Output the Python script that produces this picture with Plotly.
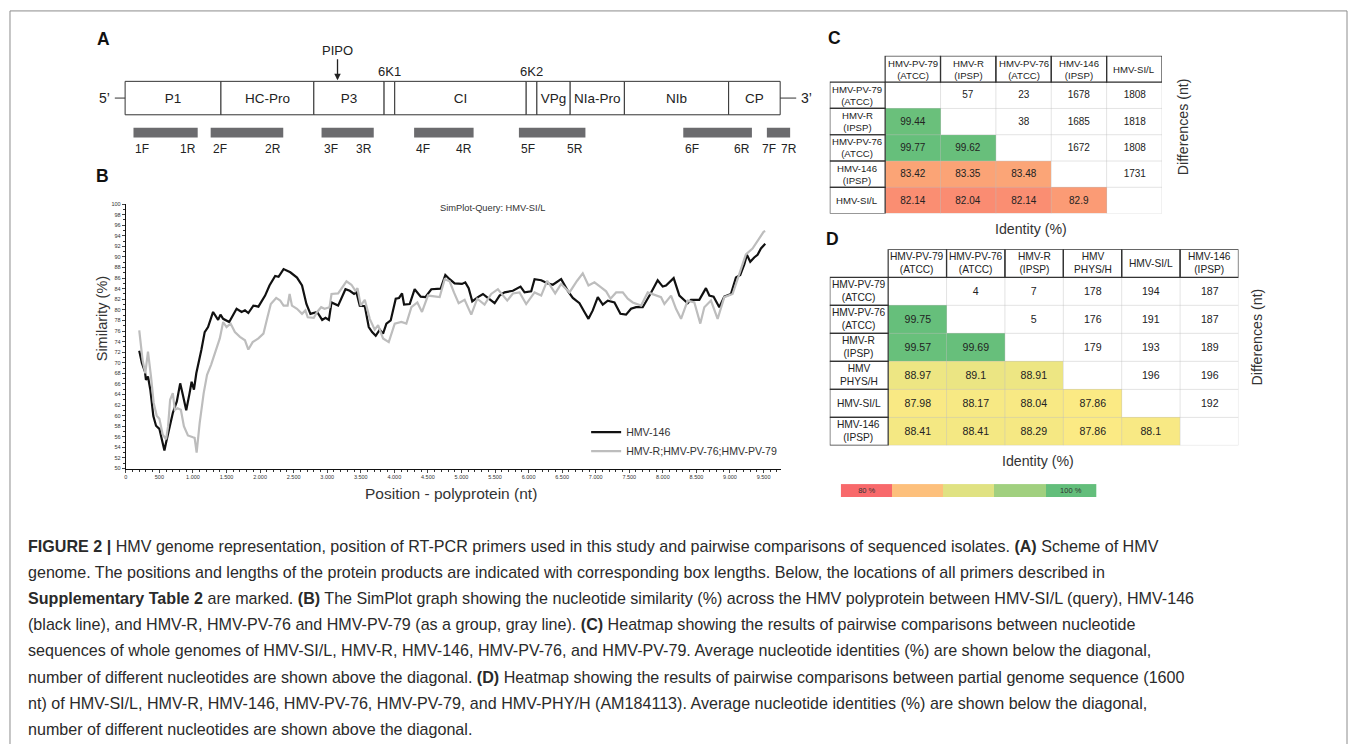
import plotly.graph_objects as go

W, H = 1355, 744


def fx(p):
    return p / W


def fy(p):
    return 1 - p / H


# ---------------- DATA ----------------
# Panel A: genome segments (approx. nt positions)
genome_names = ["P1", "HC-Pro", "P3", "6K1", "CI", "6K2", "VPg", "NIa-Pro", "NIb", "CP"]
genome_start = [0, 1434, 2824, 3875, 4034, 6001, 6161, 6659, 7470, 9030]
genome_end = [1434, 2824, 3875, 4034, 6001, 6161, 6659, 7470, 9030, 9801]
primer_ids = ["1", "2", "3", "4", "5", "6", "7"]
primer_start = [125, 1280, 2939, 4324, 5892, 8351, 9602]
primer_end = [1086, 2366, 3720, 5214, 6887, 9378, 9950]
pipo_pos = 3178

# Panel B: SimPlot curves
black_x = [200, 240, 285, 300, 330, 365, 410, 450, 500, 540, 575, 600, 640, 700, 760, 810, 850, 900, 950, 980,
           1015, 1050, 1125, 1175, 1225, 1300, 1375, 1410, 1450, 1540, 1650, 1725, 1775, 1825, 1900, 1975, 2075,
           2140, 2225, 2275, 2350, 2450, 2550, 2625, 2690, 2750, 2850, 2925, 2975, 3025,
           3064, 3163, 3272, 3336, 3400, 3436, 3485, 3560, 3619, 3669, 3723, 3783, 3832, 3882, 3946, 4021, 4070,
           4115, 4145, 4229, 4303, 4393, 4462, 4551, 4690, 4760, 4824, 4898, 5008, 5057, 5107, 5161, 5245, 5320,
           5369, 5494, 5568, 5642, 5766, 5880, 5940, 6039, 6089, 6188, 6287, 6361, 6485, 6584, 6659, 6758, 6832,
           6892, 6956, 7031, 7105, 7180, 7279, 7368, 7452, 7526, 7601, 7700, 7814, 7923, 7998, 8047, 8161, 8246,
           8370, 8419, 8543, 8642, 8692, 8756, 8841, 8915, 9014, 9089, 9153, 9213, 9252, 9302, 9361, 9411, 9461,
           9525]
black_y = [72.25, 69.9, 68.3, 66.75, 67.4, 64.9, 59.9, 58.1, 57.5, 55.5, 53.4, 54.9, 57.4, 60.5, 62.7, 66.1, 63.9,
           61.0, 64.25, 66.4, 64.9, 68.0, 72.4, 75.8, 76.75, 79.6, 78.1, 79.1, 78.3, 77.7, 80.2, 79.6, 79.9, 79.4,
           80.8, 80.6, 82.7, 84.6, 86.4, 86.25, 87.7, 87.1, 86.1, 84.6, 81.1, 79.25, 79.6, 78.1, 78.5, 78.1,
           81.4, 80.8, 83.9, 83.6, 83.0, 83.3, 80.8, 80.7, 76.75, 75.8, 75.1, 76.25, 75.5, 77.4, 78.0, 82.1, 82.25,
           83.1, 81.0, 81.1, 83.9, 82.5, 82.4, 83.9, 84.0, 86.6, 85.8, 85.0, 84.9, 85.2, 84.1, 81.6, 82.4, 83.0,
           82.5, 81.25, 82.7, 83.3, 83.6, 84.4, 83.3, 83.5, 85.8, 85.6, 85.0, 84.75, 85.8, 83.6, 82.25, 81.25, 79.6,
           78.3, 79.9, 82.4, 81.0, 81.75, 81.4, 79.25, 79.1, 80.2, 80.5, 80.5, 83.0, 85.6, 84.4, 84.6, 86.0, 82.7,
           81.25, 81.9, 81.9, 84.1, 82.7, 82.5, 80.5, 82.5, 83.0, 86.1, 86.6, 88.6, 90.4, 89.1, 89.9, 90.4, 91.6,
           92.5]
gray_x = [200, 250, 290, 330, 375, 415, 460, 500, 550, 600, 630, 660, 700, 730, 770, 820, 865, 925, 1000, 1025,
          1055, 1100, 1160, 1210, 1270, 1330, 1400, 1450, 1500, 1560, 1625, 1700, 1775, 1825, 1890, 1975, 2050,
          2110, 2160, 2240, 2300, 2350, 2410, 2440, 2475, 2550, 2625, 2675, 2710, 2800, 2850, 2910, 2960, 3035,
          3064, 3163, 3287, 3361, 3421, 3451, 3500, 3560, 3634, 3708, 3758, 3832, 3917, 4006, 4105, 4179, 4254,
          4343, 4412, 4501, 4675, 4750, 4824, 4888, 4958, 5047, 5146, 5235, 5344, 5443, 5543, 5682, 5766, 5865,
          5964, 6089, 6188, 6277, 6396, 6485, 6609, 6723, 6807, 6892, 6981, 7080, 7155, 7220, 7304, 7403, 7477,
          7552, 7676, 7775, 7899, 7973, 8023, 8122, 8196, 8271, 8370, 8469, 8558, 8618, 8717, 8816, 8915, 9039,
          9138, 9237, 9336, 9436, 9500, 9525]
gray_y = [76.1, 70.5, 68.0, 72.1, 67.4, 62.4, 60.0, 59.4, 56.4, 55.5, 58.0, 63.0, 64.25, 61.1, 61.4, 61.1, 58.0,
          56.25, 55.9, 55.8, 53.0, 58.6, 64.25, 67.7, 69.6, 72.1, 74.6, 77.7, 76.75, 77.4, 75.8, 74.9, 74.25, 72.5,
          73.9, 74.6, 75.5, 78.6, 81.1, 82.25, 81.75, 80.8, 80.8, 83.0, 80.8, 80.2, 79.25, 79.9, 78.6, 78.5, 79.6,
          80.5, 80.2, 80.5,
          83.0, 83.1, 85.4, 84.75, 83.6, 84.1, 80.8, 81.9, 78.3, 76.25, 77.1, 74.6, 73.9, 77.4, 77.7, 77.4, 80.5,
          81.4, 79.6, 82.7, 82.4, 85.8, 85.4, 83.3, 81.25, 81.9, 79.1, 82.1, 81.0, 83.0, 83.9, 81.75, 83.1, 83.3,
          81.1, 83.3, 82.7, 85.5, 83.1, 84.9, 83.3, 85.5, 86.9, 84.6, 85.2, 84.25, 83.5, 82.1, 83.3, 83.3, 82.1,
          81.4, 80.8, 83.3, 82.7, 82.4, 81.1, 82.7, 80.2, 78.3, 81.75, 81.4, 77.4, 80.5, 81.75, 78.3, 82.4, 83.0,
          86.75, 90.5, 91.6, 93.6, 94.75, 94.9]
x_tickvals = [0, 500, 1000, 1500, 2000, 2500, 3000, 3500, 4000, 4500, 5000, 5500, 6000, 6500, 7000, 7500, 8000,
              8500, 9000, 9500]
x_ticktext = ["0", "500", "1.000", "1.500", "2.000", "2.500", "3.000", "3.500", "4.000", "4.500", "5.000",
              "5.500", "6.000", "6.500", "7.000", "7.500", "8.000", "8.500", "9.000", "9.500"]
y_tickvals = [50, 52, 54, 56, 58, 60, 62, 64, 66, 68, 70, 72, 74, 76, 78, 80, 82, 84, 86, 88, 90, 92, 94, 96, 98, 100]

# Panel C
c_labels = ["HMV-PV-79<br>(ATCC)", "HMV-R<br>(IPSP)", "HMV-PV-76<br>(ATCC)", "HMV-146<br>(IPSP)", "HMV-SI/L"]
c_identity = [
    [None, None, None, None, None],
    [99.44, None, None, None, None],
    [99.77, 99.62, None, None, None],
    [83.42, 83.35, 83.48, None, None],
    [82.14, 82.04, 82.14, 82.9, None],
]
c_diff = [
    [None, 57, 23, 1678, 1808],
    [None, None, 38, 1685, 1818],
    [None, None, None, 1672, 1808],
    [None, None, None, None, 1731],
    [None, None, None, None, None],
]

# Panel D
d_labels = ["HMV-PV-79<br>(ATCC)", "HMV-PV-76<br>(ATCC)", "HMV-R<br>(IPSP)", "HMV<br>PHYS/H", "HMV-SI/L",
            "HMV-146<br>(IPSP)"]
d_identity = [
    [None, None, None, None, None, None],
    [99.75, None, None, None, None, None],
    [99.57, 99.69, None, None, None, None],
    [88.97, 89.1, 88.91, None, None, None],
    [87.98, 88.17, 88.04, 87.86, None, None],
    [88.41, 88.41, 88.29, 87.86, 88.1, None],
]
d_diff = [
    [None, 4, 7, 178, 194, 187],
    [None, None, 5, 176, 191, 187],
    [None, None, None, 179, 193, 189],
    [None, None, None, None, 196, 196],
    [None, None, None, None, None, 192],
    [None, None, None, None, None, None],
]

legend_values = [80, 85, 90, 95, 100]
legend_text = ["80 %", "", "", "", "100 %"]

caption_lines = [
    "<b>FIGURE 2 |</b> HMV genome representation, position of RT-PCR primers used in this study and pairwise comparisons of sequenced isolates. <b>(A)</b> Scheme of HMV",
    "genome. The positions and lengths of the protein products are indicated with corresponding box lengths. Below, the locations of all primers described in",
    "<b>Supplementary Table 2</b> are marked. <b>(B)</b> The SimPlot graph showing the nucleotide similarity (%) across the HMV polyprotein between HMV-SI/L (query), HMV-146",
    "(black line), and HMV-R, HMV-PV-76 and HMV-PV-79 (as a group, gray line). <b>(C)</b> Heatmap showing the results of pairwise comparisons between nucleotide",
    "sequences of whole genomes of HMV-SI/L, HMV-R, HMV-146, HMV-PV-76, and HMV-PV-79. Average nucleotide identities (%) are shown below the diagonal,",
    "number of different nucleotides are shown above the diagonal. <b>(D)</b> Heatmap showing the results of pairwise comparisons between partial genome sequence (1600",
    "nt) of HMV-SI/L, HMV-R, HMV-146, HMV-PV-76, HMV-PV-79, and HMV-PHY/H (AM184113). Average nucleotide identities (%) are shown below the diagonal,",
    "number of different nucleotides are shown above the diagonal.",
]

# ---------------- STYLE ----------------
FONT = "Liberation Sans"
TXT = "#222222"
COLORSCALE = [[0.0, "#F8696B"], [0.375, "#FFEB84"], [1.0, "#63BE7B"]]
NT_PER_PX = 14.94  # panel A scale

fig = go.Figure()
annotations = []
shapes = []


def ann(**kw):
    kw.setdefault("xanchor", "center")
    kw.setdefault("yanchor", "middle")
    kw.setdefault("showarrow", False)
    annotations.append(kw)


# ---------------- PANEL A ----------------
a_x0_px, a_x1_px, a_origin_px = 90, 820, 123.3
a_range = [(a_x0_px - a_origin_px) * NT_PER_PX, (a_x1_px - a_origin_px) * NT_PER_PX]
box_y, box_h = 95.85, 33.7
prim_y, prim_h = 130.7, 10

seg_len = [e - s for s, e in zip(genome_start, genome_end)]
seg_text = [n if (e - s) > 300 else "" for n, s, e in zip(genome_names, genome_start, genome_end)]
fig.add_trace(go.Bar(
    orientation="h", base=genome_start, x=seg_len, y=[box_y] * len(genome_names), width=box_h,
    marker=dict(color="white", line=dict(color="#333333", width=1)),
    text=seg_text, textposition="inside", insidetextanchor="middle", textangle=0,
    textfont=dict(family=FONT, size=13.5, color=TXT), constraintext="none",
    xaxis="x2", yaxis="y2", showlegend=False, hoverinfo="skip"))
fig.add_trace(go.Bar(
    orientation="h", base=primer_start, x=[e - s for s, e in zip(primer_start, primer_end)],
    y=[prim_y] * len(primer_ids), width=prim_h, marker=dict(color="#6b6b6e", line=dict(width=0)),
    xaxis="x2", yaxis="y2", showlegend=False, hoverinfo="skip"))
for pid, s, e in zip(primer_ids, primer_start, primer_end):
    lab_font = dict(family=FONT, size=12, color=TXT)
    if (e - s) > 600:
        fpos, fanc, rpos, ranc = s, "left", e, "right"
    else:  # short amplicon: labels meet around its centre
        c = (s + e) / 2
        fpos, fanc, rpos, ranc = c - 10, "right", c + 10, "left"
    ann(x=fpos, y=147, xref="x2", yref="y2", text=pid + "F", xanchor=fanc, font=lab_font)
    ann(x=rpos, y=147, xref="x2", yref="y2", text=pid + "R", xanchor=ranc, font=lab_font)
for n, s, e in zip(genome_names, genome_start, genome_end):
    if (e - s) <= 300:
        ann(x=(s + e) / 2, y=69, xref="x2", yref="y2", text=n, font=dict(family=FONT, size=13, color=TXT))
ann(x=pipo_pos, y=78, xref="x2", yref="y2", text="PIPO", showarrow=True, arrowhead=2, arrowsize=1,
    arrowwidth=1.3, arrowcolor="#222", ax=0, ay=-30, font=dict(family=FONT, size=13, color=TXT))
# 5' and 3' ends
shapes.append(dict(type="line", xref="x2", yref="y2", x0=-154, x1=genome_start[0], y0=box_y, y1=box_y,
                   line=dict(color="#333", width=1)))
shapes.append(dict(type="line", xref="x2", yref="y2", x0=genome_end[-1], x1=genome_end[-1] + 240, y0=box_y,
                   y1=box_y, line=dict(color="#333", width=1)))
ann(x=-190, y=box_y, xref="x2", yref="y2", text="5\u2019", xanchor="right", font=dict(family=FONT, size=14, color=TXT))
ann(x=genome_end[-1] + 280, y=box_y, xref="x2", yref="y2", text="3\u2019", xanchor="left",
    font=dict(family=FONT, size=14, color=TXT))

# ---------------- PANEL B ----------------
b_origin_px, b_px_per_nt = 123.3, 0.0673
fig.add_trace(go.Scatter(x=black_x, y=black_y, mode="lines", name="HMV-146",
                         line=dict(color="#111111", width=2.2), xaxis="x", yaxis="y"))
fig.add_trace(go.Scatter(x=gray_x, y=gray_y, mode="lines", name="HMV-R;HMV-PV-76;HMV-PV-79",
                         line=dict(color="#BDBDBD", width=2.2), xaxis="x", yaxis="y"))
ann(x=fx(491), y=fy(207), xref="paper", yref="paper", text="SimPlot-Query: HMV-SI/L",
    font=dict(family=FONT, size=9.3, color="#333"))
ann(x=fx(101), y=fy(318), xref="paper", yref="paper", text="Similarity (%)", textangle=-90,
    font=dict(family=FONT, size=14.5, color="#333"))
ann(x=fx(450), y=fy(494), xref="paper", yref="paper", text="Position - polyprotein (nt)",
    font=dict(family=FONT, size=15.5, color="#333"))


# ---------------- PANELS C & D (heatmaps) ----------------
def fmt(v):
    return "" if v is None else f"{v:g}"


def add_matrix(labels, ident, diff, xa, ya, fsize, hsize):
    n = len(labels)
    idx = list(range(n))
    fig.add_trace(go.Heatmap(
        z=ident, x=idx, y=idx, colorscale=COLORSCALE, zmin=80, zmax=100, showscale=False,
        text=[[fmt(v) for v in row] for row in ident], texttemplate="%{text}",
        textfont=dict(family=FONT, size=fsize, color=TXT), xaxis=xa, yaxis=ya, hoverinfo="skip"))
    upper = [[0 if j >= i else None for j in range(n)] for i in range(n)]
    fig.add_trace(go.Heatmap(
        z=upper, x=idx, y=idx, colorscale=[[0, "white"], [1, "white"]], showscale=False,
        text=[[fmt(v) for v in row] for row in diff], texttemplate="%{text}",
        textfont=dict(family=FONT, size=fsize, color=TXT), xaxis=xa, yaxis=ya, hoverinfo="skip"))
    xr, yr = xa, ya
    for k in range(n + 1):
        shapes.append(dict(type="line", xref=xr, yref=yr, x0=k - 0.5, x1=k - 0.5, y0=-0.5, y1=n - 0.5,
                           line=dict(color="rgba(190,190,190,0.55)", width=0.8), layer="above"))
        shapes.append(dict(type="line", xref=xr, yref=yr, y0=k - 0.5, y1=k - 0.5, x0=-0.5, x1=n - 0.5,
                           line=dict(color="rgba(190,190,190,0.55)", width=0.8), layer="above"))
    for i, lab in enumerate(labels):
        shapes.append(dict(type="rect", xref=xr, yref=yr, x0=i - 0.5, x1=i + 0.5, y0=-1.5, y1=-0.5,
                           line=dict(color="#333", width=1.2), layer="above"))
        shapes.append(dict(type="rect", xref=xr, yref=yr, x0=-1.5, x1=-0.5, y0=i - 0.5, y1=i + 0.5,
                           line=dict(color="#333", width=1.2), layer="above"))
        ann(x=i, y=-1, xref=xr, yref=yr, text=lab, font=dict(family=FONT, size=hsize, color=TXT))
        ann(x=-1, y=i, xref=xr, yref=yr, text=lab, font=dict(family=FONT, size=hsize, color=TXT))


add_matrix(c_labels, c_identity, c_diff, "x3", "y3", 10, 9.6)
add_matrix(d_labels, d_identity, d_diff, "x4", "y4", 10.6, 10.2)

for (xc, yc, t, ang) in [(1031, 228, "Identity (%)", 0), (1183, 125, "Differences (nt)", -90),
                         (1038, 462, "Identity (%)", 0), (1257, 337, "Differences (nt)", -90)]:
    ann(x=fx(xc), y=fy(yc), xref="paper", yref="paper", text=t, textangle=ang,
        font=dict(family=FONT, size=14.2, color="#333"))

# colour key
fig.add_trace(go.Heatmap(z=[legend_values], x=list(range(len(legend_values))), y=[0], colorscale=COLORSCALE,
                         zmin=80, zmax=100, showscale=False, text=[legend_text], texttemplate="%{text}",
                         textfont=dict(family=FONT, size=7.5, color="#333"), xaxis="x5", yaxis="y5",
                         hoverinfo="skip"))

# panel letters
for (xc, yc, t) in [(102, 36, "A"), (101, 174, "B"), (834, 35, "C"), (832, 238, "D")]:
    ann(x=fx(xc), y=fy(yc), xref="paper", yref="paper", text="<b>" + t + "</b>",
        font=dict(family=FONT, size=17.5, color="#111"))

# caption
for i, line in enumerate(caption_lines):
    ann(x=fx(24), y=fy(547 + i * 26.4), xref="paper", yref="paper", text=line, xanchor="left",
        font=dict(family=FONT, size=16.1, color="#2a2a2a"))

# outer frame
shapes.append(dict(type="rect", xref="paper", yref="paper", x0=fx(8), x1=fx(1347), y0=fy(752), y1=fy(8),
                   line=dict(color="#8c8c8c", width=1)))

hidden = dict(visible=False, showgrid=False, zeroline=False)
fig.update_layout(
    width=W, height=H, margin=dict(l=0, r=0, t=0, b=0), paper_bgcolor="white", plot_bgcolor="white",
    font=dict(family=FONT, color=TXT), barmode="overlay",
    xaxis=dict(domain=[fx(124), fx(780)], range=[0, (780 - b_origin_px) / b_px_per_nt],
               tickmode="array", tickvals=x_tickvals, ticktext=x_ticktext, ticks="outside", ticklen=3,
               tickfont=dict(size=5.5, color="#333"), showline=True, linecolor="#111", linewidth=1.3,
               showgrid=False, zeroline=False,
               minor=dict(tickmode="linear", tick0=0, dtick=100, ticks="outside", ticklen=2, tickcolor="#333")),
    yaxis=dict(domain=[fy(469.3), fy(202.7)], range=[50, 100], tickmode="array", tickvals=y_tickvals,
               ticks="outside", ticklen=3, tickfont=dict(size=5.5, color="#333"), showline=True,
               linecolor="#111", linewidth=1.3, showgrid=False, zeroline=False,
               minor=dict(tickmode="linear", tick0=50, dtick=1, ticks="outside", ticklen=2, tickcolor="#333")),
    xaxis2=dict(domain=[fx(a_x0_px), fx(a_x1_px)], range=a_range, **hidden),
    yaxis2=dict(domain=[fy(160), fy(30)], range=[160, 30], **hidden),
    xaxis3=dict(domain=[fx(829), fx(1161.7)], range=[-1.5, 4.5], **hidden),
    yaxis3=dict(domain=[fy(212.3), fy(53.3)], range=[4.5, -1.5], **hidden),
    xaxis4=dict(domain=[fx(829), fx(1238.3)], range=[-1.5, 5.5], **hidden),
    yaxis4=dict(domain=[fy(446), fy(248.3)], range=[5.5, -1.5], **hidden),
    xaxis5=dict(domain=[fx(840), fx(1096)], range=[-0.5, 4.5], **hidden),
    yaxis5=dict(domain=[fy(498), fy(485)], range=[-0.5, 0.5], **hidden),
    legend=dict(x=fx(585), y=fy(418), xanchor="left", yanchor="top", bgcolor="rgba(0,0,0,0)",
                font=dict(family=FONT, size=10.6, color="#333"), itemwidth=30, tracegroupgap=0),
    annotations=annotations, shapes=shapes,
)

fig.write_html("out.html", config={"displayModeBar": False},
               post_script="document.body.style.margin='0';document.body.style.overflow='hidden';")
